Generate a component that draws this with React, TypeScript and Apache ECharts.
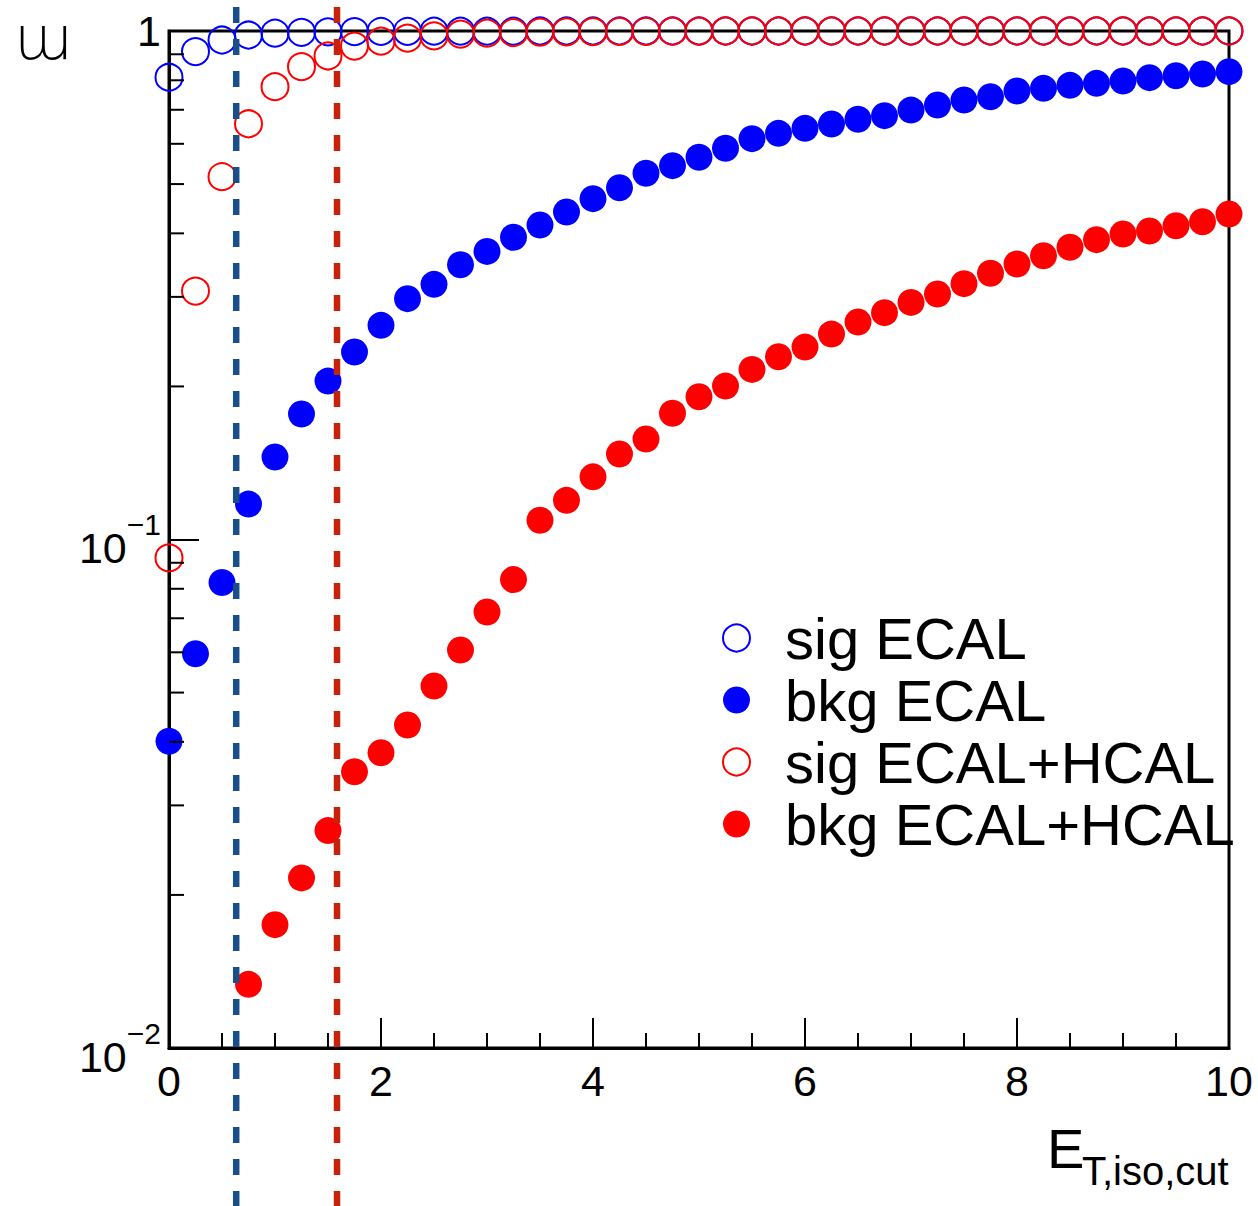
import React, { useEffect, useRef } from 'react';
import * as echarts from 'echarts';

const xValues = [0, 0.25, 0.5, 0.75, 1, 1.25, 1.5, 1.75, 2, 2.25, 2.5, 2.75, 3, 3.25, 3.5, 3.75, 4, 4.25, 4.5, 4.75, 5, 5.25, 5.5, 5.75, 6, 6.25, 6.5, 6.75, 7, 7.25, 7.5, 7.75, 8, 8.25, 8.5, 8.75, 9, 9.25, 9.5, 9.75, 10];

const sigECAL = [0.811, 0.911, 0.96, 0.982, 0.99, 0.994, 0.996, 0.997, 0.998, 0.998, 0.999, 0.999, 0.999, 0.999, 1, 1, 1, 1, 1, 1, 1, 1, 1, 1, 1, 1, 1, 1, 1, 1, 1, 1, 1, 1, 1, 1, 1, 1, 1, 1, 1];

const bkgECAL = [0.0401, 0.0596, 0.0823, 0.1174, 0.1453, 0.1765, 0.2049, 0.2338, 0.2637, 0.2976, 0.3175, 0.347, 0.3686, 0.3929, 0.4153, 0.4406, 0.468, 0.4918, 0.525, 0.5435, 0.5645, 0.5879, 0.6141, 0.6291, 0.6435, 0.6565, 0.6704, 0.6815, 0.699, 0.7153, 0.7317, 0.7427, 0.7621, 0.7713, 0.7819, 0.789, 0.7974, 0.8096, 0.8168, 0.8231, 0.8318];

const sigECALHCAL = [0.092, 0.308, 0.517, 0.657, 0.777, 0.851, 0.893, 0.934, 0.955, 0.968, 0.978, 0.986, 0.99, 0.993, 0.995, 0.996, 0.997, 0.998, 0.998, 0.999, 0.999, 1, 1, 1, 1, 1, 1, 1, 1, 1, 1, 1, 1, 1, 1, 1, 1, 1, 1, 1, 1];

const bkgECALHCAL = [null, null, null, 0.01334, 0.01748, 0.0216, 0.02676, 0.03494, 0.03808, 0.04316, 0.0515, 0.06063, 0.072, 0.0834, 0.1091, 0.1194, 0.1328, 0.1473, 0.1576, 0.1771, 0.1909, 0.2003, 0.216, 0.2288, 0.239, 0.2535, 0.2678, 0.2793, 0.2926, 0.304, 0.3185, 0.3338, 0.3481, 0.3615, 0.3755, 0.3887, 0.3989, 0.4044, 0.4141, 0.4217, 0.4367];

const seriesNames = ['sig ECAL', 'bkg ECAL', 'sig ECAL+HCAL', 'bkg ECAL+HCAL'];
const cutValues = [0.634, 1.585];
const cutColors = ['#1a4e86', '#c52309'];
const yMinorTicks = [0.02, 0.03, 0.04, 0.05, 0.06, 0.07, 0.08, 0.09, 0.2, 0.3, 0.4, 0.5, 0.6, 0.7, 0.8, 0.9];
const yTitle = 'ɯ';
const xTitleMain = 'E';
const xTitleSub = 'T,iso,cut';

const FONT = 'Liberation Sans, Arial, Helvetica, sans-serif';

function pairs(vals: (number | null)[]) {
  const out: number[][] = [];
  vals.forEach((v, i) => {
    if (v != null) out.push([xValues[i], v]);
  });
  return out;
}

export default function App() {
  const ref = useRef<HTMLDivElement>(null);
  useEffect(() => {
    if (!ref.current) return;
    const chart = echarts.init(ref.current, null, { renderer: 'svg' });
    const openSeries = (name: string, vals: (number | null)[], color: string, z: number) => ({
      type: 'scatter',
      name,
      data: pairs(vals),
      symbol: 'circle',
      symbolSize: 27,
      clip: false,
      z,
      silent: true,
      itemStyle: { color: 'rgba(255,255,255,0)', borderColor: color, borderWidth: 2, opacity: 1 },
    });
    const filledSeries = (name: string, vals: (number | null)[], color: string, z: number) => ({
      type: 'scatter',
      name,
      data: pairs(vals),
      symbol: 'circle',
      symbolSize: 27,
      clip: false,
      z,
      silent: true,
      itemStyle: { color, borderWidth: 0, opacity: 1 },
    });
    const option: any = {
      animation: false,
      backgroundColor: '#ffffff',
      grid: {
        left: 169,
        right: 29,
        top: 31,
        bottom: 158,
        show: true,
        borderColor: '#000',
        borderWidth: 3,
        backgroundColor: 'transparent',
      },
      xAxis: {
        type: 'value',
        min: 0,
        max: 10,
        interval: 2,
        axisLine: { show: true, lineStyle: { color: '#000', width: 3 } },
        axisTick: { show: true, inside: true, length: 30, lineStyle: { color: '#000', width: 2 } },
        minorTick: { show: true, splitNumber: 4, length: 15, lineStyle: { color: '#000', width: 2 } },
        splitLine: { show: false },
        minorSplitLine: { show: false },
        axisLabel: { fontSize: 43, color: '#000', fontFamily: FONT, margin: 11, showMinLabel: true, showMaxLabel: true },
      },
      yAxis: {
        type: 'log',
        logBase: 10,
        min: 0.01,
        max: 1,
        axisLine: { show: true, lineStyle: { color: '#000', width: 3 } },
        axisTick: { show: true, inside: true, length: 30, lineStyle: { color: '#000', width: 2 } },
        splitLine: { show: false },
        axisLabel: {
          color: '#000',
          fontFamily: FONT,
          margin: 8,
          formatter: (v: number) => {
            const e = Math.round(Math.log10(v));
            if (e === 0) return '{o|1}';
            return '{n|10}{s|\u2212' + -e + '}';
          },
          rich: {
            o: { fontSize: 43, fontFamily: FONT, color: '#000', lineHeight: 46 },
            n: { fontSize: 43, fontFamily: FONT, color: '#000', lineHeight: 60, verticalAlign: 'bottom' },
            s: { fontSize: 30, fontFamily: FONT, color: '#000', lineHeight: 30, verticalAlign: 'top' },
          },
        },
      },
      legend: {
        orient: 'vertical',
        left: 722,
        top: 609,
        padding: 0,
        itemWidth: 27,
        itemHeight: 27,
        itemGap: 4,
        icon: 'circle',
        selectedMode: false,
        data: seriesNames,
        textStyle: { fontSize: 58, lineHeight: 57, color: '#000', fontFamily: FONT, padding: [0, 0, 0, 30] },
      },
      graphic: [
        {
          type: 'text',
          x: 14,
          y: 38,
          style: {
            text: yTitle,
            fontSize: 60,
            fontFamily: 'DejaVu Sans',
            fontWeight: 200,
            fill: '#000',
            textAlign: 'left',
            textVerticalAlign: 'middle',
          },
        },
        {
          type: 'text',
          x: 1047,
          y: 1148,
          style: {
            text: xTitleMain,
            fontSize: 56,
            fontFamily: FONT,
            fill: '#000',
            textAlign: 'left',
            textVerticalAlign: 'middle',
          },
        },
        {
          type: 'text',
          x: 1082,
          y: 1171,
          style: {
            text: xTitleSub,
            fontSize: 40,
            fontFamily: FONT,
            fill: '#000',
            textAlign: 'left',
            textVerticalAlign: 'middle',
          },
        },
      ],
      series: [
        openSeries(seriesNames[0], sigECAL, '#0000ff', 3),
        filledSeries(seriesNames[1], bkgECAL, '#0000ff', 4),
        openSeries(seriesNames[2], sigECALHCAL, '#ff0000', 5),
        filledSeries(seriesNames[3], bkgECALHCAL, '#ff0000', 6),
        {
          type: 'custom',
          name: 'yMinor',
          silent: true,
          clip: false,
          z: 7,
          data: yMinorTicks.map((v) => [0, v]),
          encode: { x: 0, y: 1 },
          renderItem: (params: any, api: any) => {
            const p = api.coord([0, api.value(1)]);
            return {
              type: 'line',
              shape: { x1: p[0], y1: p[1], x2: p[0] + 15, y2: p[1] },
              style: { stroke: '#000', lineWidth: 2 },
            };
          },
        },
        {
          type: 'custom',
          name: 'cuts',
          silent: true,
          clip: false,
          z: 10,
          data: cutValues.map((c, i) => [c, 1, i]),
          encode: { x: 0, y: 1 },
          renderItem: (params: any, api: any) => {
            const p = api.coord([api.value(0), 1]);
            const idx = api.value(2);
            return {
              type: 'line',
              shape: { x1: p[0], y1: 0, x2: p[0], y2: api.getHeight() },
              style: { stroke: cutColors[idx], lineWidth: 6.5, lineDash: [16, 16], lineDashOffset: 25 },
            };
          },
        },
      ],
    };
    chart.setOption(option);
    return () => chart.dispose();
  }, []);
  return <div ref={ref} style={{ position: 'fixed', left: 0, top: 0, width: 1258, height: 1206, background: '#fff' }} />;
}
